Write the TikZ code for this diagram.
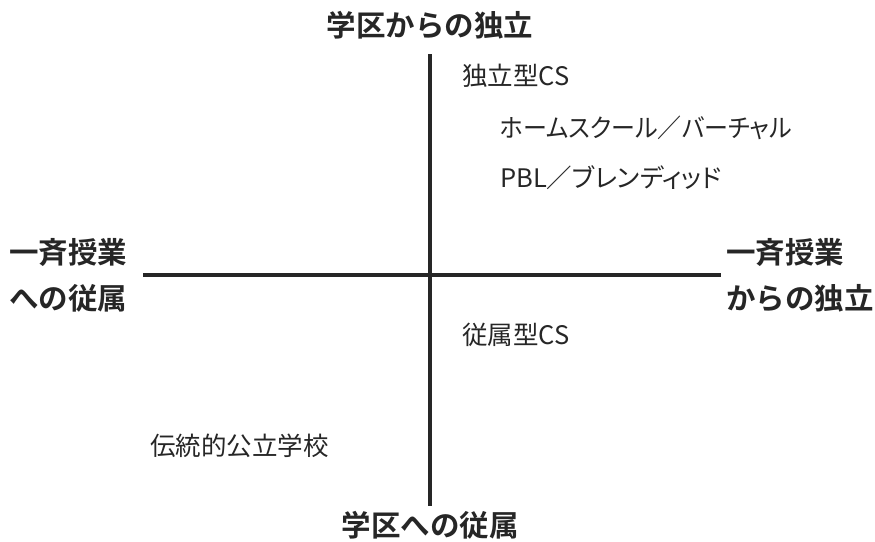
\documentclass[tikz,border=0pt]{standalone}
\usepackage{fontspec}
\newfontfamily\cjk{Noto Sans CJK JP}
\newfontfamily\cjkp[RawFeature=+palt]{Noto Sans CJK JP}
\newfontfamily\cjkbold{Noto Sans CJK JP Bold}
\begin{document}
\begin{tikzpicture}[x=1pt,y=-1pt,
  axis/.style={line width=3.5pt,black!85},
  head/.style={font=\cjkbold\fontsize{29.5}{31}\selectfont,text=black!85,inner sep=0pt},
  item/.style={font=\cjk\fontsize{25.5}{27}\selectfont,text=black!85,inner sep=0pt,anchor=west},
  pitem/.style={item,font=\cjkp\fontsize{25.5}{27}\selectfont}]
\useasboundingbox (0,0) rectangle (875,541);
\coordinate (vt) at (430,54);
\coordinate (vb) at (430,506);
\coordinate (hl) at (143,275);
\coordinate (hr) at (721,275);
\draw[axis] (vt) -- (vb);
\draw[axis] (hl) -- (hr);
\node[head] (top) at (430,25) {学区からの独立};
\node[head] (bot) at (430,525) {学区への従属};
\node[head,anchor=west] (l1) at (9,252) {一斉授業};
\node[head,anchor=west] (l2) at (9,298) {への従属};
\node[head,anchor=west] (r1) at (726,252) {一斉授業};
\node[head,anchor=west] (r2) at (726,298) {からの独立};
\node[item] (a) at (462,76) {独立型CS};
\node[pitem,xscale=0.94,transform shape] (b) at (500,128) {ホームスクール／バーチャル};
\node[pitem] (c) at (500,178) {PBL／ブレンディッド};
\node[item] (d) at (462,335) {従属型CS};
\node[item] (e) at (150,446) {伝統的公立学校};
\end{tikzpicture}
\end{document}
